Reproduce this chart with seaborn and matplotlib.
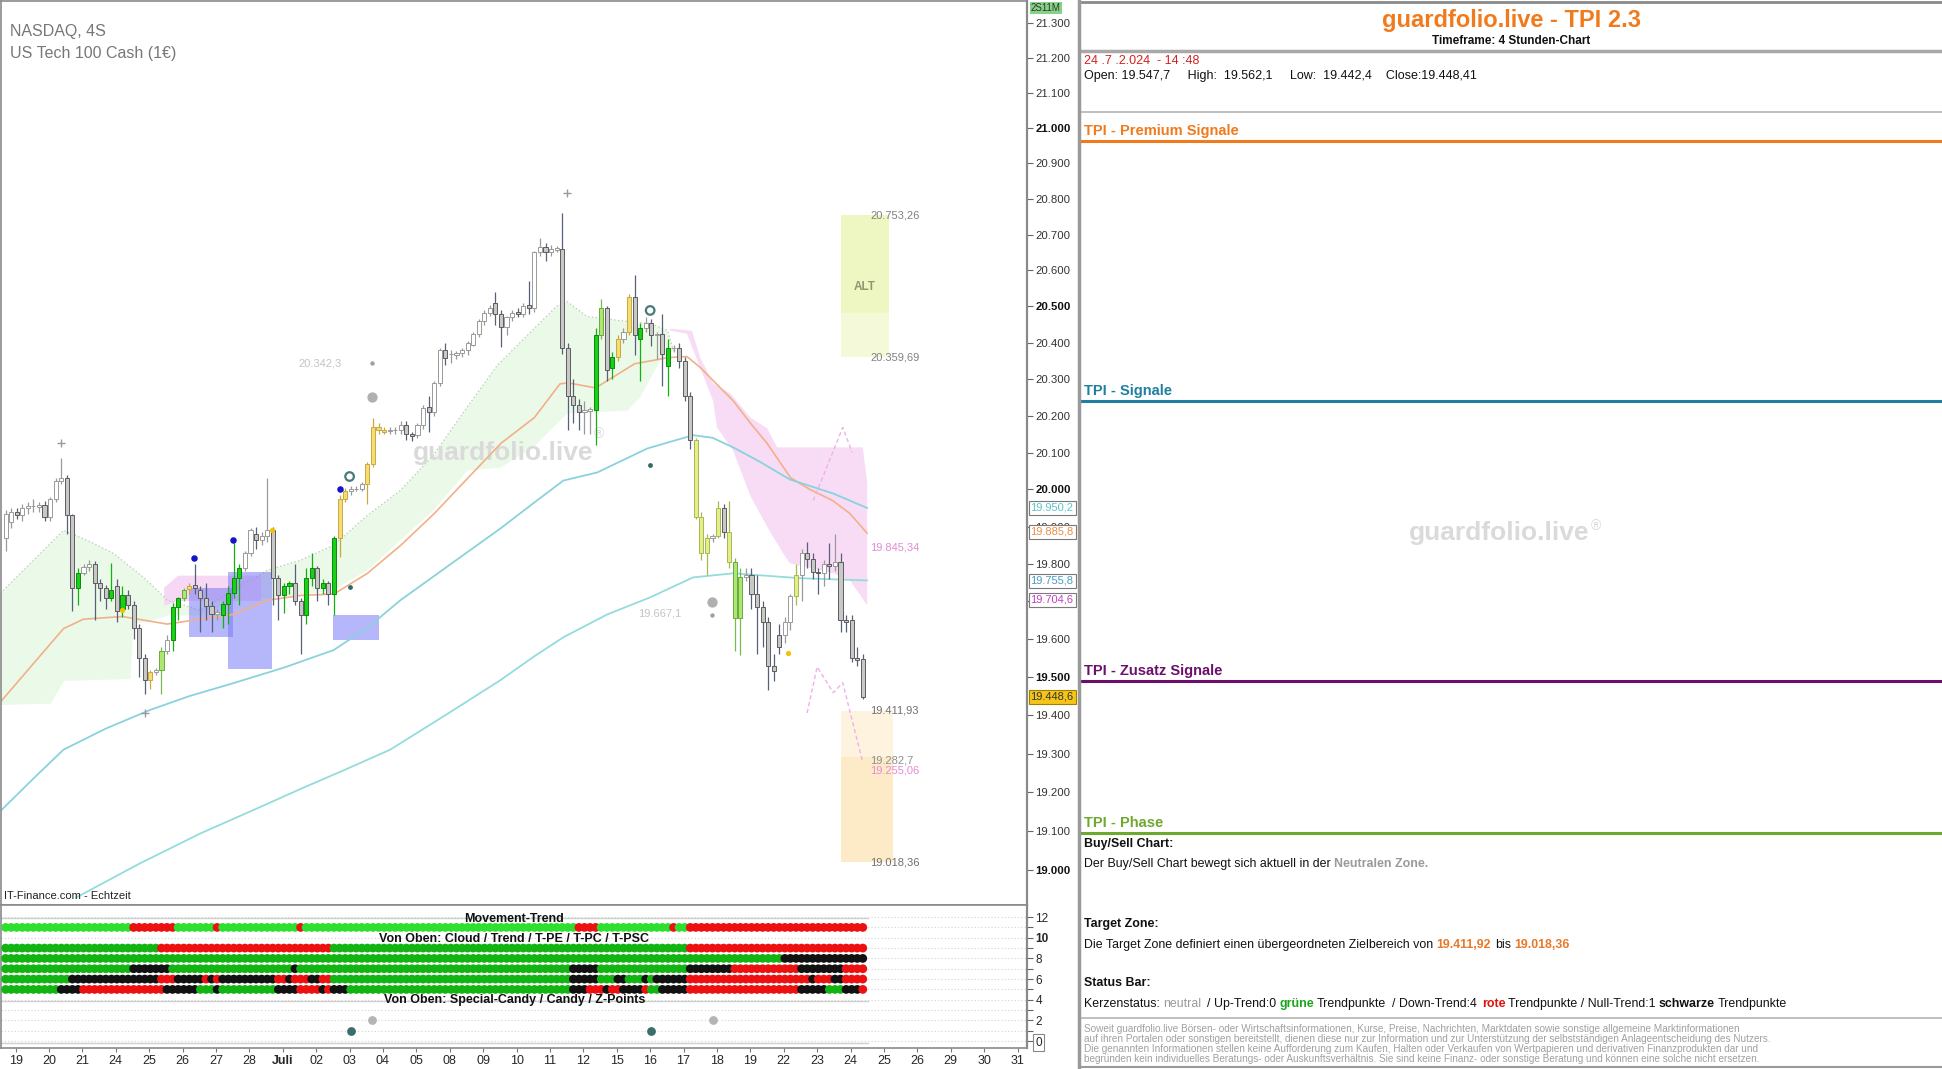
import matplotlib
matplotlib.use("Agg")
import matplotlib.pyplot as plt
from matplotlib.lines import Line2D
from matplotlib.ticker import NullLocator
import numpy as np
import pandas as pd
import seaborn as sns

# ---- 4h candles NASDAQ / US Tech 100, 19.06. - 24.07.2024 ----
opens = [
    19870, 19912, 19938, 19930, 19950, 19955, 19952, 19958, 19925, 19975,
    20024, 20032, 19930, 19735, 19777, 19792, 19800, 19748, 19735, 19708,
    19740, 19680, 19718, 19690, 19630, 19550, 19492, 19513, 19518, 19570,
    19597, 19685, 19708, 19732, 19745, 19730, 19708, 19688, 19668, 19665,
    19692, 19722, 19762, 19788, 19828, 19880, 19865, 19876, 19890, 19762,
    19718, 19740, 19750, 19700, 19665, 19762, 19788, 19735, 19748, 19720,
    19870, 19975, 19997, 20002, 20002, 20015, 20070, 20170, 20160, 20158,
    20160, 20162, 20175, 20150, 20148, 20175, 20225, 20210, 20290, 20380,
    20368, 20365, 20372, 20380, 20395, 20425, 20460, 20483, 20510, 20480,
    20442, 20470, 20485, 20478, 20505, 20495, 20650, 20665, 20650, 20658,
    20660, 20385, 20255, 20230, 20210, 20212, 20215, 20420, 20495, 20330,
    20360, 20410, 20430, 20525, 20410, 20440, 20455, 20420, 20425, 20335,
    20385, 20385, 20350, 20255, 20133, 19925, 19830, 19870, 19875, 19950,
    19885, 19805, 19655, 19765, 19770, 19720, 19685, 19645, 19530, 19580,
    19610, 19645, 19715, 19770, 19830, 19812, 19778, 19775, 19800, 19795,
    19805, 19650, 19650, 19550, 19547.7]
highs = [
    19945, 19950, 19950, 19960, 19965, 19975, 19965, 19970, 19980, 20030,
    20084, 20040, 19935, 19790, 19800, 19810, 19808, 19760, 19745, 19802,
    19760, 19740, 19730, 19700, 19640, 19560, 19520, 19525, 19580, 19610,
    19695, 19712, 19735, 19750, 19800, 19740, 19750, 19700, 19680, 19700,
    19740, 19855, 19800, 19835, 19895, 19900, 19885, 20030, 19900, 19770,
    19750, 19755, 19800, 19710, 19790, 19830, 19795, 19760, 19755, 19875,
    19985, 20005, 20010, 20010, 20020, 20075, 20195, 20180, 20168, 20170,
    20170, 20185, 20185, 20155, 20180, 20230, 20255, 20295, 20385, 20400,
    20380, 20378, 20385, 20405, 20430, 20465, 20490, 20505, 20540, 20490,
    20475, 20490, 20495, 20510, 20571, 20655, 20690, 20675, 20670, 20668,
    20760, 20400, 20300, 20245, 20240, 20225, 20440, 20520, 20500, 20375,
    20420, 20440, 20535, 20588, 20455, 20470, 20465, 20430, 20480, 20410,
    20395, 20400, 20360, 20265, 20140, 19940, 19880, 19880, 19970, 19960,
    19970, 19815, 19790, 19790, 19790, 19770, 19700, 19660, 19560, 19640,
    19660, 19720, 19800, 19840, 19860, 19830, 19790, 19810, 19855, 19880,
    19830, 19665, 19665, 19580, 19562.1]
lows = [
    19835, 19895, 19920, 19915, 19935, 19940, 19940, 19915, 19915, 19965,
    20015, 19880, 19675, 19690, 19770, 19780, 19650, 19700, 19680, 19700,
    19645, 19660, 19680, 19600, 19500, 19455, 19470, 19505, 19455, 19560,
    19570, 19650, 19700, 19720, 19720, 19620, 19650, 19618, 19650, 19630,
    19640, 19710, 19690, 19780, 19820, 19840, 19850, 19860, 19690, 19650,
    19670, 19720, 19690, 19560, 19640, 19740, 19700, 19720, 19690, 19665,
    19818, 19965, 19985, 19995, 19995, 19962, 20060, 20150, 20150, 20150,
    20150, 20150, 20133, 20130, 20140, 20165, 20155, 20200, 20280, 20340,
    20345, 20355, 20360, 20365, 20390, 20415, 20450, 20475, 20450, 20388,
    20420, 20460, 20470, 20470, 20480, 20485, 20640, 20627, 20640, 20650,
    20370, 20160, 20180, 20160, 20150, 20150, 20120, 20410, 20296, 20300,
    20350, 20400, 20420, 20365, 20296, 20430, 20390, 20355, 20280, 20255,
    20375, 20330, 20240, 20110, 19920, 19810, 19770, 19860, 19870, 19870,
    19790, 19570, 19558, 19755, 19680, 19560, 19580, 19465, 19490, 19560,
    19590, 19625, 19690, 19700, 19790, 19760, 19720, 19740, 19760, 19780,
    19620, 19620, 19540, 19530, 19442.4]
closes = [
    19935, 19938, 19930, 19950, 19955, 19956, 19958, 19925, 19975, 20024,
    20032, 19930, 19735, 19777, 19792, 19800, 19748, 19735, 19708, 19730,
    19675, 19718, 19690, 19630, 19550, 19492, 19513, 19518, 19570, 19597,
    19685, 19708, 19730, 19742, 19735, 19708, 19688, 19668, 19672, 19692,
    19722, 19762, 19788, 19828, 19890, 19865, 19876, 19890, 19762, 19718,
    19740, 19750, 19700, 19665, 19762, 19788, 19735, 19748, 19720, 19870,
    19975, 19997, 20002, 20002, 20015, 20070, 20170, 20160, 20155, 20160,
    20160, 20175, 20150, 20145, 20175, 20220, 20210, 20290, 20380, 20358,
    20368, 20372, 20380, 20400, 20425, 20460, 20483, 20497, 20480, 20442,
    20470, 20483, 20478, 20500, 20495, 20650, 20665, 20650, 20660, 20662,
    20385, 20255, 20230, 20210, 20215, 20218, 20420, 20495, 20325, 20360,
    20410, 20430, 20525, 20420, 20440, 20455, 20420, 20425, 20370, 20385,
    20385, 20350, 20255, 20133, 19925, 19830, 19870, 19875, 19950, 19885,
    19805, 19655, 19765, 19770, 19720, 19685, 19645, 19530, 19515, 19610,
    19645, 19715, 19770, 19830, 19812, 19778, 19775, 19800, 19795, 19805,
    19650, 19645, 19550, 19545, 19448.41]
# g grey, w white, G green, l light green, y gold, k lime
candle_colors = ("wwgwwwwgww" "wggGwwgggG" "gGggggywlw" "GGlyggggwG" "GGGwwgwwgg"
                 "GGggGGgGgG" "yywwwyyyyw" "wwggwwgwwg" "wwwwwwwwgg" "wwgwgwwgww"
                 "ggggwwGlgG" "ywygGwgwgG" "wgggkkkwkg" "kllwgggggg" "wwkwgggwgw"
                 "ggggg")

day_labels = ["19", "20", "21", "24", "25", "26", "27", "28", "Juli", "02", "03",
              "04", "05", "08", "09", "10", "11", "12", "15", "16", "17", "18",
              "19", "22", "23", "24", "25", "26", "29", "30", "31"]

# indicator lines (candle index, price)
orange_x = [-0.9, 10.4, 14, 21, 29, 35, 41, 47, 53, 59, 65, 71, 77, 83, 89, 95,
            99.6, 101, 106, 113, 119, 122.4, 124.8, 127.5, 130.7, 133.8, 136.8,
            141, 144.5, 148.6, 151.7, 154.8]
orange_y = [19435, 19628, 19653, 19660, 19640, 19653, 19666, 19703, 19716, 19720,
            19775, 19850, 19935, 20030, 20125, 20195, 20287, 20290, 20276, 20342,
            20359, 20362, 20332, 20290, 20241, 20180, 20125, 20032, 20000, 19970,
            19935, 19882]
cyan_fast_x = [-0.9, 5, 10.4, 18, 26, 33, 40.9, 50, 58.9, 65, 70.9, 80, 88.9,
               95, 100.2, 106.3, 115.3, 123.5, 127, 130.7, 135.5, 140.9, 148.7, 154.8]
cyan_fast_y = [19151, 19235, 19310, 19365, 19414, 19450, 19484, 19525, 19571,
               19630, 19703, 19800, 19895, 19965, 20024, 20046, 20111, 20147,
               20140, 20114, 20075, 20027, 19989, 19950]
cyan_slow_x = [12.6, 24, 35, 44, 53, 61, 69.1, 79, 88.9, 95, 100.2, 108, 115.8,
               123.5, 130.7, 142.7, 154.8]
cyan_slow_y = [18928, 19015, 19093, 19150, 19208, 19258, 19310, 19400, 19492,
               19555, 19605, 19665, 19711, 19764, 19775, 19762, 19756]

# cloud boundaries
green_top_x = [-0.9, 4.5, 10.4, 14.7, 19.4, 24.8, 29.1, 35, 40.9, 47, 53, 58.9,
               65, 70.9, 76.8, 83, 88.3, 93.7, 99.1, 100.9, 104.5, 110.4, 115.8,
               118.9, 120]
green_top_y = [19722, 19802, 19890, 19863, 19828, 19764, 19703, 19677, 19730,
               19783, 19810, 19850, 19930, 19997, 20092, 20225, 20337, 20420,
               20502, 20513, 20472, 20461, 20453, 20434, 20378]
green_bot_x = [-0.9, 8.1, 10.5, 22.4, 23, 26.6, 29.1, 35, 40.9, 47, 53, 58.9, 65,
               70.9, 76.8, 83, 88.9, 94.8, 100.9, 111.7, 114, 117.6, 120]
green_bot_y = [19427, 19430, 19490, 19495, 19640, 19650, 19663, 19663, 19703,
               19708, 19716, 19730, 19783, 19863, 19943, 20051, 20059, 20114,
               20206, 20214, 20250, 20351, 20378]
pink_top_x = [119.4, 123.3, 124.8, 127.1, 130.2, 133.8, 136.8, 138.6, 154, 154.8]
pink_top_y = [20439, 20433, 20359, 20288, 20261, 20195, 20166, 20114, 20114, 20016]
pink_bot_x = [119.4, 122.4, 124.8, 127.1, 127.8, 130.7, 133.8, 136.8, 139.7,
              140.9, 148.7, 151.7, 154.8]
pink_bot_y = [20433, 20425, 20331, 20241, 20168, 20105, 19983, 19900, 19828,
              19802, 19775, 19756, 19690]
pink_small_x = [28.4, 30.9, 40.4, 45.8]
pink_small_top = [19738, 19770, 19770, 19770]
pink_small_bot = [19690, 19703, 19703, 19703]
fc_up_x = [145.1, 150.4, 152.1]
fc_up_y = [19970, 20168, 20100]
fc_dn_x = [144, 145.8, 148.7, 150.4, 151.7, 154]
fc_dn_y = [19406, 19527, 19459, 19485, 19409, 19277]

# blue zones (x0, x1, low, high)
blue_x0 = [32.9, 39.9, 58.9]
blue_x1 = [40.9, 47.9, 67.0]
blue_lo = [19605, 19522, 19597]
blue_hi = [19735, 19778, 19663]

# target zones
alt_zone = [20359.69, 20483, 20753.26]
target_zone = [19018.36, 19290, 19411.93]
zone_labels = ["20.753,26", "20.359,69", "19.845,34", "19.411,93", "19.282,7",
               "19.255,06", "19.018,36"]
zone_values = [20753.26, 20359.69, 19845.34, 19411.93, 19282.7, 19255.06, 19018.36]
zone_colors = ["#808080", "#808080", "#e58ad8", "#707070", "#909090", "#e58ad8", "#707070"]

# markers
plus_x, plus_y = [9.9, 25, 100.9], [20125, 19406, 20816]
sgrey_x, sgrey_y = [65.9, 126.9], [20343, 19663]
bgrey_x, bgrey_y = [65.9, 126.9], [20250, 19698]
teal_x, teal_y = [61.8, 115.8], [19738, 20067]
ring_x, ring_y = [61.8, 115.8], [20035, 20489]
blue_x, blue_y = [33.9, 40.9, 60], [19815, 19863, 20002]
yel_x, yel_y = [21, 47.9, 140.6], [19677, 19890, 19563]

axis_boxes = [19950.2, 19885.8, 19755.8, 19704.6]
axis_box_colors = ["#5cc4cc", "#e8904a", "#4a9ac0", "#c040c0"]
last_price = 19448.6

# status rows (color, run length)
movement_runs = [("G", 23), ("r", 8), ("G", 7), ("r", 1), ("G", 14), ("r", 1), ("G", 49),
                 ("r", 4), ("G", 13), ("r", 1), ("G", 2), ("r", 32)]
cloud_runs = [("g", 28), ("r", 31), ("g", 64), ("r", 32)]
trend_runs = [("g", 140), ("k", 15)]
tpe_runs = [("g", 23), ("k", 7), ("g", 22), ("k", 1), ("g", 49), ("k", 5), ("g", 16),
            ("k", 8), ("r", 12), ("k", 8), ("r", 4)]
tpc_runs = [("g", 12), ("k", 16), ("r", 3), ("k", 5), ("r", 1), ("k", 1), ("r", 1),
            ("k", 10), ("r", 2), ("k", 1), ("r", 3), ("k", 2), ("r", 2), ("g", 43),
            ("k", 5), ("g", 3), ("k", 2), ("g", 3), ("k", 1), ("g", 1), ("k", 6),
            ("r", 22), ("k", 1), ("r", 3), ("k", 2), ("r", 4)]
tpsc_runs = [("g", 10), ("k", 4), ("r", 15), ("k", 6), ("g", 3), ("k", 1), ("g", 10),
             ("k", 4), ("r", 4), ("k", 1), ("r", 1), ("k", 3), ("g", 40), ("k", 3),
             ("r", 3), ("k", 1), ("r", 2), ("k", 4), ("r", 1), ("g", 2), ("k", 5),
             ("r", 20), ("k", 5), ("g", 3), ("k", 3), ("r", 1)]
candy_grey_x = [65.9, 127]
zpoint_x = [62, 116]


def de(v, nd=0):
    s = f"{v:,.{nd}f}"
    return s.replace(",", "X").replace(".", ",").replace("X", ".")


sns.set_theme(style="white")
plt.rcParams["font.family"] = ["Liberation Sans", "DejaVu Sans"]
NARROW = ["Liberation Sans Narrow", "Liberation Sans", "DejaVu Sans"]

W, H = 1942, 1069
fig = plt.figure(figsize=(W / 100, H / 100), dpi=100)
fig.patch.set_facecolor("white")
ax = fig.add_axes([0.0003, 1 - 905 / H, 1027 / W - 0.0003, 904 / H])
axl = fig.add_axes([0.0003, 1 - 1048 / H, 1027 / W - 0.0003, 143 / H])
axr = fig.add_axes([1080 / W, 0, 1 - 1080 / W, 1])
renderer = fig.canvas.get_renderer()


def run_text(a, x, y, parts, **kw):
    # parts: (gap, text, color, weight)
    for gap, s, color, weight in parts:
        x += gap
        t = a.text(x, y, s, color=color, fontweight=weight, **kw)
        bb = t.get_window_extent(renderer)
        x = a.transData.inverted().transform((bb.x1, bb.y0))[0]
    return x


# ---------------- price panel ----------------
ax.set_yscale("log")
ax.set_ylim(18909.5, 21362.6)
ax.set_xlim(-0.9, 183.5)

ax.fill(np.r_[green_top_x, green_bot_x[::-1]], np.r_[green_top_y, green_bot_y[::-1]],
        color="#ebf9e8", lw=0, zorder=1)
ax.fill(np.r_[pink_top_x, pink_bot_x[::-1]], np.r_[pink_top_y, pink_bot_y[::-1]],
        color="#f8dcf6", lw=0, zorder=1)
ax.fill_between(pink_small_x, pink_small_bot, pink_small_top, color="#f6d8f4", lw=0, zorder=1)
ax.plot(green_top_x, green_top_y, color="#b8c8b8", lw=0.9, ls=(0, (1, 2)), zorder=1.5)

ax.fill_between([150.1, 158.7], alt_zone[1], alt_zone[2], color="#eef6c2", lw=0, zorder=1)
ax.fill_between([150.1, 158.7], alt_zone[0], alt_zone[1], color="#f4f9da", lw=0, zorder=1)
ax.fill_between([150.1, 159.4], target_zone[1], target_zone[2], color="#fdf3de", lw=0, zorder=1)
ax.fill_between([150.1, 159.4], target_zone[0], target_zone[1], color="#fcebc6", lw=0, zorder=1)
ax.text(154.4, 20555, "ALT", ha="center", va="center", fontsize=8.5, fontweight="bold",
        color="#8c9870", zorder=2)

for x0, x1, lo, hi in zip(blue_x0, blue_x1, blue_lo, blue_hi):
    ax.fill_between([x0, x1], lo, hi, color="#7a7af6", alpha=0.55, lw=0, zorder=2)

sns.lineplot(x=orange_x, y=orange_y, ax=ax, color="#f2b088", lw=1.2, sort=False,
             estimator=None, zorder=2.5)
sns.lineplot(x=cyan_fast_x, y=cyan_fast_y, ax=ax, color="#8ad2dc", lw=1.3, sort=False,
             estimator=None, zorder=2.5)
sns.lineplot(x=cyan_slow_x, y=cyan_slow_y, ax=ax, color="#94dcdc", lw=1.3, sort=False,
             estimator=None, zorder=2.5)
ax.plot(fc_up_x, fc_up_y, color="#f0b0e8", lw=1, ls=(0, (3, 2)), zorder=2.5)
ax.plot(fc_dn_x, fc_dn_y, color="#f0b0e8", lw=1, ls=(0, (3, 2)), zorder=2.5)

df = pd.DataFrame(dict(i=np.arange(len(closes)), o=opens, h=highs, l=lows, c=closes,
                       k=list(candle_colors)))
style = {"g": ("#c8c8c8", "#5c5c5c", "#56607a"),
         "w": ("#ffffff", "#9a9a9a", "#9a9a9a"),
         "G": ("#18d018", "#0a8a0a", "#12b012"),
         "l": ("#ace870", "#6aa840", "#7ab850"),
         "y": ("#f6dc72", "#c8a840", "#c8a840"),
         "k": ("#e4ef8c", "#a8b850", "#a8b850")}
for key, (fc, ec, wc) in style.items():
    sub = df[df.k == key]
    ax.vlines(sub.i, sub.l, sub.h, color=wc, lw=0.9, zorder=3)
    bot = np.minimum(sub.o, sub.c)
    top = np.maximum(sub.o, sub.c)
    ax.bar(sub.i, top - bot, bottom=bot, width=0.74, color=fc, edgecolor=ec,
           linewidth=0.7, zorder=4)

ax.scatter(plus_x, plus_y, marker="+", s=30, color="#9a9a9a", lw=1, zorder=5)
ax.scatter(sgrey_x, sgrey_y, s=10, color="#a0a0a0", lw=0, zorder=5)
ax.scatter(bgrey_x, bgrey_y, s=55, color="#b0b0b0", lw=0, zorder=5)
ax.scatter(teal_x, teal_y, s=12, color="#2f6a66", lw=0, zorder=5)
ax.scatter(ring_x, ring_y, s=38, facecolor="none", edgecolor="#4a7a78", lw=1.6, zorder=5)
ax.scatter(blue_x, blue_y, s=22, color="#1414c8", lw=0, zorder=5)
ax.scatter(yel_x, yel_y, s=14, color="#f2c200", lw=0, zorder=5)

ax.text(56.5, 20343, "20.342,3", ha="center", va="center", fontsize=8, color="#c4c4c4")
ax.text(117.6, 19667, "19.667,1", ha="center", va="center", fontsize=8, color="#c4c4c4")
for s, v, c in zip(zone_labels, zone_values, zone_colors):
    ax.text(155.3, v, s, ha="left", va="center", fontsize=8, color=c, zorder=6)

xe = run_text(ax, 73.1, 20100, [(0, "guardfolio.live", "#dadada", "bold")],
              fontsize=19, va="center", zorder=1.8)
ax.text(xe + 0.2, 20150, "®", fontsize=10, color="#dadada", va="center", zorder=1.8)

ax.text(0.0095, 0.966, "NASDAQ, 4S", transform=ax.transAxes, fontsize=11.5,
        color="#777777", va="center")
ax.text(0.0095, 0.942, "US Tech 100 Cash (1€)", transform=ax.transAxes, fontsize=11.5,
        color="#777777", va="center")
ax.text(0.003, 0.004, "IT-Finance.com - Echtzeit", transform=ax.transAxes, fontsize=8,
        color="#222222", va="bottom", family=NARROW)

# 19.700 sits under the 19.704,6 marker box in the original, so it stays hidden
pticks = list(range(19000, 21301, 100))
ax.yaxis.tick_right()
ax.yaxis.set_minor_locator(NullLocator())
ax.set_yticks(pticks, labels=["" if v == 19700 else de(v) for v in pticks])
for t, v in zip(ax.get_yticklabels(), pticks):
    t.set_fontweight("bold" if v % 500 == 0 else "normal")
    t.set_color("#111111" if v % 500 == 0 else "#333333")
ax.tick_params(axis="y", which="major", right=True, direction="out", length=4, width=0.8,
               color="#666666", labelsize=8.2, pad=2)
ax.set_xticks([])
for side in ["left", "top", "right", "bottom"]:
    ax.spines[side].set_visible(True)
    ax.spines[side].set_color("#8a8a8a")
    ax.spines[side].set_linewidth(1.2)
ax.spines["right"].set_linewidth(1.6)

ytr = ax.get_yaxis_transform()
for v, c in zip(axis_boxes, axis_box_colors):
    ax.text(1.0035, v, de(v, 1), transform=ytr, fontsize=8, color=c, va="center",
            ha="left", bbox=dict(boxstyle="square,pad=0.18", fc="white", ec="#7a7a7a", lw=0.8),
            zorder=7, clip_on=False)
ax.text(1.0035, last_price, de(last_price, 1), transform=ytr, fontsize=8, color="#333333",
        va="center", ha="left", clip_on=False, zorder=7,
        bbox=dict(boxstyle="square,pad=0.18", fc="#f5c518", ec="#a08000", lw=0.8))
fig.text(1031 / W, 1 - 8 / H, "2S11M", fontsize=7, color="#333333", va="center",
         bbox=dict(boxstyle="square,pad=0.15", fc="#86d286", ec="none"))

# ---------------- status panel ----------------
rows = [(11, movement_runs), (9, cloud_runs), (8, trend_runs), (7, tpe_runs),
        (6, tpc_runs), (5, tpsc_runs)]
recs = []
for v, runs in rows:
    i = 0
    for col, n in runs:
        for _ in range(n):
            recs.append((i, v, col))
            i += 1
dots = pd.DataFrame(recs, columns=["i", "v", "state"])
palette = {"G": "#2ee02e", "g": "#12b412", "r": "#ec1010", "k": "#111111"}
for vv in range(0, 13):
    axl.axhline(vv, color="#d2d2d2", lw=0.8, ls=(0, (1, 2)), zorder=0)
for vv in [11.95, 3.9, -0.2]:
    axl.plot([-0.9, 155], [vv, vv], color="#cfcfcf", lw=1, zorder=0.5)
sns.scatterplot(data=dots, x="i", y="v", hue="state", palette=palette, s=40,
                linewidth=0, legend=False, ax=axl, zorder=3)
axl.scatter(candy_grey_x, [2, 2], s=40, color="#b4b4b4", lw=0, zorder=3)
axl.scatter(zpoint_x, [1, 1], s=40, color="#3a6e6a", lw=0, zorder=3)
axl.text(91.4, 11.85, "Movement-Trend", ha="center", va="center", fontsize=9,
         fontweight="bold", family=NARROW, color="#111111", zorder=4)
axl.text(91.4, 9.85, "Von Oben: Cloud / Trend / T-PE / T-PC / T-PSC", ha="center",
         va="center", fontsize=9, fontweight="bold", family=NARROW, color="#111111", zorder=4)
axl.text(91.4, 3.95, "Von Oben: Special-Candy / Candy / Z-Points", ha="center",
         va="center", fontsize=9, fontweight="bold", family=NARROW, color="#111111", zorder=4)

axl.set_xlim(-0.9, 183.5)
axl.set_ylim(-0.67, 13.17)
axl.yaxis.tick_right()
lvals = list(range(0, 13, 2))
axl.set_yticks(lvals, labels=[str(v) for v in lvals])
axl.set_yticks(range(1, 13, 2), minor=True)
for t, v in zip(axl.get_yticklabels(), lvals):
    if v == 10:
        t.set_fontweight("bold")
    if v == 0:
        t.set_bbox(dict(boxstyle="square,pad=0.2", fc="white", ec="#888888", lw=0.8))
axl.tick_params(axis="y", which="both", right=True, direction="out", length=4,
                width=0.8, color="#666666", labelsize=8.5, pad=2)
day_pos = [6 * k + 1.8 for k in range(len(day_labels))]
axl.set_xticks(day_pos, labels=day_labels)
for t, s in zip(axl.get_xticklabels(), day_labels):
    t.set_family(NARROW)
    if s == "Juli":
        t.set_fontweight("bold")
axl.tick_params(axis="x", bottom=True, direction="out", length=3, width=0.8,
                color="#777777", labelsize=9, pad=2)
axl.set_xlabel("")
axl.set_ylabel("")
ax.set_xlabel("")
ax.set_ylabel("")
for side in ["left", "top", "right", "bottom"]:
    axl.spines[side].set_visible(True)
    axl.spines[side].set_color("#8a8a8a")
    axl.spines[side].set_linewidth(1.2)
axl.spines["right"].set_linewidth(1.6)

# ---------------- info panel ----------------
axr.set_xlim(1080, W)
axr.set_ylim(H, 0)
axr.axis("off")
axr.hlines(1.5, 1080, W, color="#8a8a8a", lw=2)
axr.hlines(51, 1080, W, color="#a8a8a8", lw=2.5)
axr.hlines(112, 1080, W, color="#b4b4b4", lw=1.2)
axr.hlines(1018, 1080, W, color="#b4b4b4", lw=1.2)
axr.hlines(1067, 1080, W, color="#9a9a9a", lw=1.5)
fig.add_artist(Line2D([1078.5 / W] * 2, [0, 1], color="#9a9a9a", lw=2.5))

axr.text(1511, 20, "guardfolio.live - TPI 2.3", ha="center", va="center", fontsize=17,
         fontweight="bold", color="#f07a1c", family=NARROW)
axr.text(1511, 41, "Timeframe: 4 Stunden-Chart", ha="center", va="center", fontsize=8.5,
         fontweight="bold", color="#111111", family=NARROW)
axr.text(1084, 61, "24 .7 .2.024  - 14 :48", va="center", fontsize=9, color="#d42020",
         family=NARROW)
axr.text(1084, 76, "Open: 19.547,7     High:  19.562,1     Low:  19.442,4    Close:19.448,41",
         va="center", fontsize=9, color="#111111", family=NARROW)

signals = [("TPI - Premium Signale", "#f07a1c", 131, 141),
           ("TPI - Signale", "#1f7fa0", 391, 401),
           ("TPI - Zusatz Signale", "#6c0f6c", 671, 681),
           ("TPI - Phase", "#6fa82e", 823, 833)]
for s, c, ty, ly in signals:
    axr.text(1084, ty, s, va="center", fontsize=10.5, fontweight="bold", color=c,
             family=NARROW)
    axr.hlines(ly, 1080, W, color=c, lw=2.2)

xe = run_text(axr, 1409, 533, [(0, "guardfolio.live", "#dadada", "bold")], fontsize=19,
              va="center")
axr.text(xe + 1, 526, "®", fontsize=10, color="#dadada", va="center")

kw = dict(va="center", fontsize=8.9, family=NARROW)
axr.text(1084, 844, "Buy/Sell Chart:", fontweight="bold", color="#111111", **kw)
run_text(axr, 1084, 864, [(0, "Der Buy/Sell Chart bewegt sich aktuell in der", "#111111", "normal"),
                          (3, "Neutralen Zone.", "#9a9a9a", "bold")], **kw)
axr.text(1084, 924, "Target Zone:", fontweight="bold", color="#111111", **kw)
run_text(axr, 1084, 945, [(0, "Die Target Zone definiert einen übergeordneten Zielbereich von",
                           "#111111", "normal"),
                          (3, "19.411,92", "#e8782a", "bold"),
                          (5, "bis", "#111111", "normal"),
                          (3, "19.018,36", "#e8782a", "bold")], **kw)
axr.text(1084, 983, "Status Bar:", fontweight="bold", color="#111111", **kw)
run_text(axr, 1084, 1004, [(0, "Kerzenstatus:", "#111111", "normal"),
                           (3, "neutral", "#9a9a9a", "normal"),
                           (6, "/ Up-Trend:0", "#111111", "normal"),
                           (3, "grüne", "#1aa81a", "bold"),
                           (3, "Trendpunkte", "#111111", "normal"),
                           (6, "/ Down-Trend:4", "#111111", "normal"),
                           (5, "rote", "#e01010", "bold"),
                           (3, "Trendpunkte / Null-Trend:1", "#111111", "normal"),
                           (3, "schwarze", "#111111", "bold"),
                           (3, "Trendpunkte", "#111111", "normal")], **kw)

disclaimer = [
    "Soweit guardfolio.live Börsen- oder Wirtschaftsinformationen, Kurse, Preise, Nachrichten, "
    "Marktdaten sowie sonstige allgemeine Marktinformationen",
    "auf ihren Portalen oder sonstigen bereitstellt, dienen diese nur zur Information und zur "
    "Unterstützung der selbstständigen Anlageentscheidung des Nutzers.",
    "Die genannten Informationen stellen keine Aufforderung zum Kaufen, Halten oder Verkaufen von "
    "Wertpapieren und derivativen Finanzprodukten dar und",
    "begründen kein individuelles Beratungs- oder Auskunftsverhältnis. Sie sind keine Finanz- oder "
    "sonstige Beratung und können eine solche nicht ersetzen.",
]
for j, line in enumerate(disclaimer):
    axr.text(1084, 1029 + 10 * j, line, va="center", fontsize=7.2, color="#a0a0a0",
             family=NARROW)

fig.savefig("out.png", dpi=100, facecolor="white")
